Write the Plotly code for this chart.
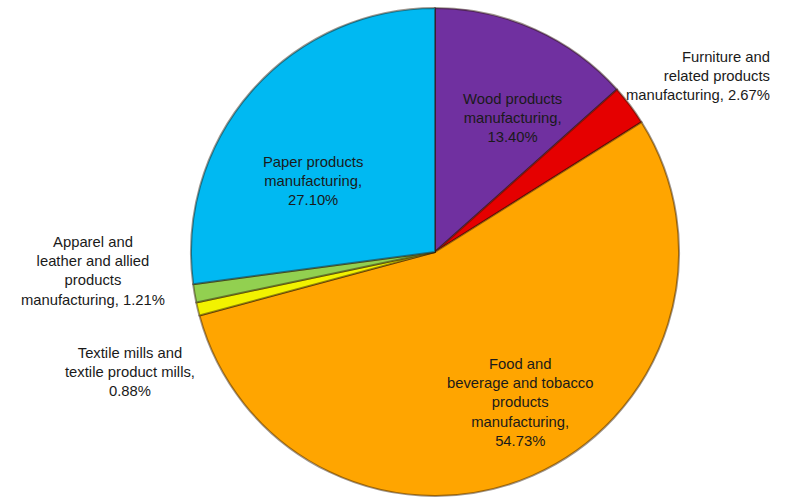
import plotly.graph_objects as go

# Share of output by manufacturing sub-sector (percent), clockwise from 12 o'clock
sectors = [
    "Wood products manufacturing",
    "Furniture and related products manufacturing",
    "Food and beverage and tobacco products manufacturing",
    "Textile mills and textile product mills",
    "Apparel and leather and allied products manufacturing",
    "Paper products manufacturing",
]
shares = [13.40, 2.67, 54.73, 0.88, 1.21, 27.10]
colors = ["#7030A0", "#E50000", "#FFA500", "#F2F200", "#92D050", "#00B9F2"]

# Label text broken into lines as displayed around the pie
label_lines = [
    ["Wood products", "manufacturing,", "{v}"],
    ["Furniture and", "related products", "manufacturing, {v}"],
    ["Food and", "beverage and tobacco", "products", "manufacturing,", "{v}"],
    ["Textile mills and", "textile product mills,", "{v}"],
    ["Apparel and", "leather and allied", "products", "manufacturing, {v}"],
    ["Paper products", "manufacturing,", "{v}"],
]
# Label anchor (x px, y px from top, alignment)
label_pos = [
    (512, 118, "center"),
    (772, 76, "right"),
    (520, 402, "center"),
    (130, 372, "center"),
    (93, 271, "center"),
    (313, 181, "center"),
]

W, H = 798, 498
cx, cy, r = 435, 252, 244

fig = go.Figure()
fig.add_trace(go.Pie(
    labels=sectors,
    values=shares,
    sort=False,
    direction="clockwise",
    rotation=0,
    marker=dict(colors=colors, line=dict(color="rgba(40,20,0,0.45)", width=2)),
    textinfo="none",
    hoverinfo="label+percent",
    showlegend=False,
    domain=dict(x=[(cx - r) / W, (cx + r) / W], y=[(H - cy - r) / H, (H - cy + r) / H]),
))

for lines, v, (x, y, align) in zip(label_lines, shares, label_pos):
    text = "<br>".join(l.format(v=f"{v:.2f}%") for l in lines)
    fig.add_annotation(
        x=x / W, y=1 - y / H, xref="paper", yref="paper",
        text=text, showarrow=False, align=align,
        xanchor=align if align != "center" else "center", yanchor="middle",
        font=dict(family="Liberation Sans", size=14.8, color="#1a1a1a"),
    )

fig.update_layout(
    width=W, height=H,
    margin=dict(l=0, r=0, t=0, b=0),
    paper_bgcolor="white",
    plot_bgcolor="white",
)
fig.write_html("out.html")
